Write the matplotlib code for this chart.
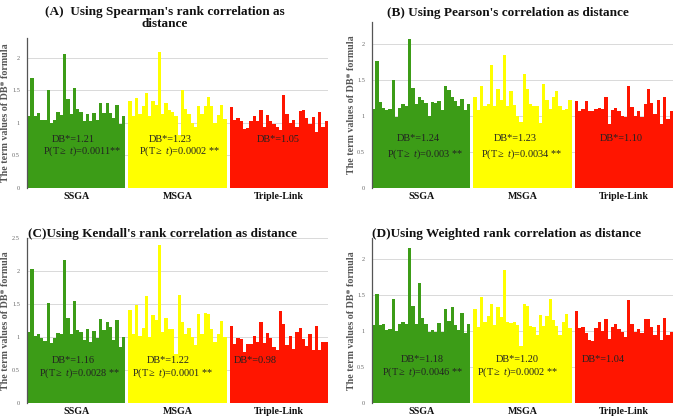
import matplotlib
matplotlib.use("Agg")
import matplotlib.pyplot as plt
import numpy as np

plt.rcParams["mathtext.fontset"] = "custom"
plt.rcParams["mathtext.rm"] = "Liberation Serif"
plt.rcParams["mathtext.it"] = "Liberation Serif:italic"

groups = ["SSGA", "MSGA", "Triple-Link"]
colors = ["#3c9c17", "#ffff00", "#ff1500"]

titles = ["(A)  Using Spearman's rank correlation as\ndistance",
          "(B) Using Pearson's correlation as distance",
          "(C)Using Kendall's rank correlation as distance",
          "(D)Using Weighted rank correlation as distance"]

a_ssga = [1.10,1.69,1.11,1.15,1.04,1.05,1.51,1.00,1.04,1.17,1.12,2.06,1.36,1.13,1.53,1.21,1.17,1.03,1.14,1.03,1.15,1.04,1.30,1.15,1.31,1.15,1.07,1.27,0.98,1.10]
a_msga = [1.34,1.10,1.38,1.13,1.25,1.46,1.10,1.33,1.28,2.08,1.13,1.31,1.19,1.16,1.10,0.82,1.51,1.21,1.14,1.00,0.93,1.25,1.13,1.25,1.40,1.26,1.00,1.12,1.27,1.06]
a_trip = [1.24,1.05,1.07,1.02,0.90,0.92,1.02,1.10,1.02,1.19,0.93,1.12,1.03,0.98,0.94,0.89,1.42,1.13,0.99,1.04,0.93,1.18,1.20,1.08,0.98,1.09,0.86,1.17,0.93,1.02]

b_ssga = [1.09,1.76,1.19,1.11,1.08,1.10,1.50,0.99,1.11,1.16,1.13,2.06,1.38,1.16,1.26,1.22,1.18,1.00,1.19,1.18,1.21,1.08,1.41,1.36,1.26,1.21,1.14,1.24,1.08,1.17]
b_msga = [1.26,1.08,1.42,1.13,1.16,1.71,1.14,1.37,1.22,1.84,1.13,1.34,1.15,1.00,0.91,1.58,1.37,1.16,1.14,1.14,0.90,1.44,1.22,1.09,1.26,1.34,1.14,1.08,1.10,1.22]
b_trip = [1.21,1.07,1.10,1.20,1.07,1.07,1.10,1.11,1.10,1.26,0.89,1.08,1.11,1.06,1.00,0.98,1.41,1.12,1.00,1.06,0.99,1.17,1.37,1.18,1.02,1.22,0.88,1.26,0.95,1.07]

c_ssga = [1.08,2.03,1.02,1.05,0.98,0.94,1.52,0.91,0.98,1.06,1.05,2.16,1.29,1.05,1.55,1.10,1.07,0.96,1.12,0.92,1.09,0.98,1.27,1.11,1.23,1.15,0.96,1.26,0.85,1.00]
c_msga = [1.41,1.05,1.48,1.02,1.13,1.62,1.00,1.33,1.26,2.39,1.07,1.29,1.12,1.12,0.75,1.63,1.22,1.05,1.14,1.00,0.88,1.35,1.05,1.36,1.35,1.12,0.93,1.05,1.25,1.00]
c_trip = [1.16,0.90,0.98,0.97,0.77,0.90,0.90,1.02,0.92,1.22,0.91,1.06,0.98,0.85,0.80,1.39,1.19,0.88,1.01,0.82,1.08,1.14,0.97,0.86,1.04,0.80,1.16,0.81,0.92,0.92]

d_ssga = [1.08,1.51,1.08,1.10,1.01,1.03,1.44,1.00,1.09,1.12,1.09,2.15,1.35,1.10,1.67,1.18,1.09,0.98,1.02,0.99,1.11,0.98,1.31,1.14,1.33,1.08,1.02,1.25,0.97,1.09]
d_msga = [1.30,1.06,1.47,1.12,1.21,1.38,1.08,1.33,1.20,1.85,1.13,1.11,1.13,1.08,0.79,1.38,1.34,1.07,1.05,0.95,1.22,1.07,1.21,1.44,1.15,1.07,0.95,1.13,1.23,1.04]
d_trip = [1.28,1.04,1.06,0.97,0.88,0.86,1.04,1.12,1.00,1.17,0.89,1.06,1.09,1.03,0.99,0.91,1.43,1.10,0.98,1.03,0.97,1.17,1.16,1.06,0.95,1.08,0.88,1.18,0.95,0.99]

db_values = [["1.21", "1.23", "1.05"], ["1.24", "1.23", "1.10"],
             ["1.16", "1.22", "0.98"], ["1.18", "1.20", "1.04"]]
p_values = [["0.0011**", "0.0002 **"], ["0.003 **", "0.0034 **"],
            ["0.0028 **", "0.0001 **"], ["0.0046 **", "0.0002 **"]]

panel_data = [[a_ssga, a_msga, a_trip], [b_ssga, b_msga, b_trip],
              [c_ssga, c_msga, c_trip], [d_ssga, d_msga, d_trip]]
ymax = [2.3, 2.3, 2.5, 2.29]

W, H = 675, 419
fig = plt.figure(figsize=(W / 100, H / 100), dpi=100)
fig.patch.set_facecolor("white")

# axes boxes in pixels: left, top, right, bottom
boxes = [(27, 38, 328, 188), (372, 22, 673, 188), (27, 238, 328, 403), (372, 238, 673, 403)]
title_pos = [(165, 6), (508, 7), (163, 228), (507, 228)]
ylabel_x = [6, 351, 6, 351]

# text positions (x in bar units, y in data units)
db_pos = [[(13.6, 0.75), (43.2, 0.75), (76.2, 0.75)],
          [(13.6, 0.69), (43.2, 0.69), (75.7, 0.69)],
          [(13.6, 0.64), (42.6, 0.64), (69.2, 0.64)],
          [(14.8, 0.60), (43.8, 0.60), (70.1, 0.60)]]
p_pos = [[(16.3, 0.56), (46.0, 0.56)],
         [(15.7, 0.47), (45.3, 0.47)],
         [(15.7, 0.45), (44.1, 0.45)],
         [(14.8, 0.42), (44.1, 0.42)]]

serif = "Liberation Serif"
gap = 1.0

for k in range(4):
    l, t, r, b = boxes[k]
    ax = fig.add_axes([l / W, 1 - b / H, (r - l) / W, (b - t) / H])
    centers = []
    x0 = 0.0
    for g, vals in enumerate(panel_data[k]):
        xs = x0 + np.arange(len(vals))
        ax.bar(xs, vals, width=1.0, color=colors[g], edgecolor="none", zorder=2)
        centers.append((xs[0] + xs[-1]) / 2)
        x0 = xs[-1] + 1 + gap
    ax.set_xlim(-0.5, x0 - gap - 0.5)
    ax.set_ylim(0, ymax[k])
    ticks = np.arange(0, ymax[k] + 0.001, 0.5)
    ax.set_yticks(ticks)
    ax.set_yticklabels([("%g" % v) for v in ticks], fontsize=4.5, color="#666666",
                       family=serif)
    ax.tick_params(axis="y", length=0, pad=5)
    ax.set_xticks(centers)
    ax.set_xticklabels(groups, fontsize=7.2, fontweight="bold", family=serif, color="#111111")
    ax.tick_params(axis="x", length=0, pad=3)
    ax.grid(axis="y", color="#d9d9d9", linewidth=0.7, zorder=0)
    ax.set_axisbelow(True)
    for s in ["top", "right", "bottom"]:
        ax.spines[s].set_visible(False)
    ax.spines["left"].set_color("#555555")
    ax.spines["left"].set_linewidth(0.9)

    for g in range(3):
        x, y = db_pos[k][g]
        ax.text(x, y, "DB*=" + db_values[k][g], ha="center", va="center",
                fontsize=7.4, family=serif, color="#222222", zorder=3)
    for g in range(2):
        x, y = p_pos[k][g]
        ax.text(x, y, r"P(T$\geq$ $\mathit{t}$)=" + p_values[k][g], ha="center", va="center",
                fontsize=7.4, family=serif, color="#222222", zorder=3)

    tx, ty = title_pos[k]
    fig.text(tx / W, 1 - ty / H, titles[k], ha="center", va="top", fontsize=9.5,
             fontweight="bold", family=serif, color="#111111", linespacing=1.0)
    fig.text(ylabel_x[k] / W, 1 - ((t + b) / 2) / H, "The term values of DB* formula",
             rotation=90, ha="center", va="center", fontsize=7.2, fontweight="bold",
             family=serif, color="#555555")

fig.savefig("out.png", dpi=100, facecolor="white")
